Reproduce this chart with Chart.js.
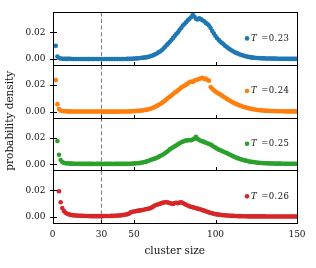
<!DOCTYPE html>
<html>
<head>
<meta charset="utf-8">
<script src="https://cdn.jsdelivr.net/npm/chart.js@4.4.0/dist/chart.umd.min.js"></script>
<style>
html,body{margin:0;padding:0;background:#fff;}
#c{display:block;}
</style>
</head>
<body>
<canvas id="c" width="316" height="268"></canvas>
<script>
// ---- data ----
const T_LABELS = ['0.23', '0.24', '0.25', '0.26'];
const START_SIZE = [2, 2, 3, 4];
const COLORS = ['#1f77b4', '#ff7f0e', '#2ca02c', '#d62728'];
const X_TICKS = [0, 30, 50, 100, 150];
const Y_TICKS = [0, 0.02];
const THRESHOLD = 30;

const p023 = [
0.0099,0.0020,0.0008,0.0005,
0.0003,0.0003,0.0002,0.0002,0.0002,0.0002,0.0001,0.0001,0.0001,0.0001,0.0001,0.0001,0.0001,0.0001,0.0001,
0.0001,0.0001,0.0001,0.0001,0.0001,0.0001,0.0001,0.0001,0.0001,0.0001,0.0001,0.0001,0.0001,0.0001,0.0001,0.0001,0.0001,0.0001,0.0001,0.0001,0.0001,0.0001,0.0001,0.0001,0.0001,
0.0002,0.0002,0.0003,0.0003,0.0004,
0.0005,0.0006,0.0007,0.0008,0.0010,0.0011,0.0013,0.0015,0.0018,0.0021,
0.0025,0.0030,0.0036,0.0042,0.0050,0.0057,0.0066,0.0077,0.0090,0.0104,
0.0117,0.0130,0.0142,0.0158,0.0172,0.0188,0.0200,0.0218,0.0232,0.0250,
0.0262,0.0275,0.0290,0.0300,0.0312,0.0330,0.0318,0.0300,0.0296,0.0305,
0.0298,0.0290,0.0282,0.0270,0.0262,0.0250,0.0232,0.0210,0.0190,0.0172,
0.0155,0.0142,0.0130,0.0120,0.0110,0.0098,0.0090,0.0080,0.0072,0.0064,
0.0057,0.0050,0.0045,0.0040,0.0035,0.0031,0.0027,0.0023,0.0020,0.0017,
0.0015,0.0013,0.0011,0.0010,0.0009,0.0008,0.0007,0.0007,0.0006,0.0006,
0.0005,0.0005,0.0005,0.0004,0.0004,0.0004,0.0004,0.0003,0.0003,0.0003,
0.0003,0.0003,0.0003,0.0003,0.0002,0.0002,0.0002,0.0002,0.0002,0.0002
];
const p024 = [
0.0237,0.0057,0.0020,0.0010,
0.0006,0.0005,0.0004,0.0003,0.0003,0.0003,0.0002,0.0002,0.0002,0.0002,0.0002,0.0002,0.0002,0.0002,0.0002,
0.0002,0.0002,0.0002,0.0002,0.0002,0.0002,0.0002,0.0002,0.0002,0.0002,0.0001,0.0001,0.0001,0.0001,0.0001,0.0001,0.0001,0.0001,0.0001,0.0001,0.0002,0.0002,0.0002,0.0002,0.0002,
0.0002,0.0003,0.0003,0.0004,0.0005,
0.0006,0.0007,0.0008,0.0009,0.0010,0.0012,0.0014,0.0016,0.0019,0.0022,
0.0026,0.0031,0.0037,0.0044,0.0051,0.0058,0.0066,0.0074,0.0083,0.0094,
0.0104,0.0112,0.0122,0.0132,0.0143,0.0150,0.0160,0.0170,0.0180,0.0188,
0.0195,0.0202,0.0210,0.0220,0.0225,0.0222,0.0232,0.0237,0.0240,0.0244,
0.0250,0.0254,0.0245,0.0248,0.0237,0.0232,0.0185,0.0172,0.0160,0.0150,
0.0143,0.0135,0.0128,0.0120,0.0112,0.0104,0.0096,0.0088,0.0082,0.0075,
0.0068,0.0062,0.0057,0.0052,0.0046,0.0042,0.0038,0.0034,0.0031,0.0028,
0.0025,0.0022,0.0019,0.0017,0.0015,0.0013,0.0012,0.0011,0.0010,0.0009,
0.0008,0.0007,0.0007,0.0006,0.0006,0.0005,0.0005,0.0005,0.0004,0.0004,
0.0004,0.0004,0.0003,0.0003,0.0003,0.0003,0.0003,0.0003,0.0003,0.0003
];
const p025 = [
0.0174,0.0072,0.0033,0.0018,0.0012,
0.0009,0.0008,0.0007,0.0006,0.0006,0.0005,0.0005,0.0005,0.0005,0.0004,0.0004,0.0004,0.0004,
0.0004,0.0004,0.0004,0.0004,0.0004,0.0003,0.0004,0.0004,0.0004,0.0004,0.0003,0.0004,0.0004,0.0004,0.0004,0.0004,0.0003,0.0004,0.0004,0.0004,0.0004,0.0004,0.0004,0.0004,0.0004,0.0004,0.0004,
0.0005,0.0006,0.0007,0.0008,0.0009,
0.0010,0.0012,0.0014,0.0016,0.0019,0.0023,0.0028,0.0033,0.0036,0.0040,
0.0045,0.0050,0.0056,0.0062,0.0068,0.0075,0.0083,0.0092,0.0102,0.0112,
0.0120,0.0128,0.0135,0.0142,0.0150,0.0158,0.0165,0.0170,0.0175,0.0180,
0.0178,0.0182,0.0180,0.0185,0.0192,0.0205,0.0190,0.0182,0.0176,0.0172,
0.0168,0.0162,0.0158,0.0152,0.0148,0.0140,0.0132,0.0125,0.0117,0.0110,
0.0106,0.0100,0.0095,0.0089,0.0084,0.0078,0.0072,0.0066,0.0060,0.0054,
0.0049,0.0045,0.0041,0.0037,0.0033,0.0030,0.0027,0.0024,0.0021,0.0019,
0.0018,0.0016,0.0014,0.0013,0.0012,0.0011,0.0010,0.0009,0.0009,0.0008,
0.0008,0.0007,0.0007,0.0007,0.0006,0.0006,0.0006,0.0006,0.0005,0.0005,
0.0005,0.0005,0.0005,0.0005,0.0005,0.0005,0.0005,0.0005,0.0005,0.0005
];
const p026 = [
0.0192,0.0110,0.0067,0.0046,0.0032,0.0025,0.0020,
0.0017,0.0015,0.0013,0.0012,0.0011,0.0010,0.0010,0.0009,0.0009,0.0008,
0.0008,0.0008,0.0007,0.0007,0.0007,0.0007,0.0007,0.0007,0.0007,0.0007,
0.0007,0.0008,0.0008,0.0008,0.0008,0.0009,0.0009,0.0010,0.0010,0.0011,
0.0012,0.0013,0.0015,0.0017,0.0019,
0.0022,0.0026,0.0035,0.0040,0.0042,
0.0044,0.0046,0.0048,0.0050,0.0052,0.0055,0.0058,0.0060,0.0063,0.0066,
0.0072,0.0080,0.0088,0.0092,0.0096,0.0100,0.0104,0.0108,0.0111,0.0110,
0.0108,0.0105,0.0100,0.0098,0.0104,0.0106,0.0103,0.0108,0.0110,0.0105,
0.0098,0.0092,0.0086,0.0080,0.0077,0.0074,0.0070,0.0067,0.0063,0.0060,
0.0056,0.0052,0.0048,0.0044,0.0040,0.0035,0.0031,0.0028,0.0025,0.0022,
0.0020,0.0018,0.0017,0.0015,0.0014,0.0013,0.0012,0.0011,0.0010,0.0009,
0.0009,0.0008,0.0008,0.0007,0.0007,0.0007,0.0006,0.0006,0.0006,0.0005,
0.0005,0.0005,0.0005,0.0005,0.0005,0.0005,0.0005,0.0005,0.0005,0.0005,
0.0004,0.0004,0.0004,0.0004,0.0004,0.0004,0.0004,0.0004,0.0004,0.0004,
0.0004,0.0004,0.0004,0.0004,0.0004,0.0004,0.0004,0.0004,0.0004,0.0004
];
const SERIES = [p023, p024, p025, p026];

// ---- chart ----
const SERIF = '"DejaVu Serif", serif';
const TEXT = '#111';

const datasets = SERIES.map((vals, i) => ({
  label: 'T =' + T_LABELS[i],
  data: vals.map((v, k) => ({x: START_SIZE[i] + k, y: v})),
  yAxisID: 'y' + i,
  backgroundColor: COLORS[i],
  borderColor: COLORS[i],
  borderWidth: 0,
  pointRadius: 2.3,
  pointHoverRadius: 2.3,
  showLine: false
}));

function yAxis(i) {
  return {
    type: 'linear',
    position: 'left',
    stack: 'panels',
    stackWeight: 1,
    min: -0.0044,
    max: 0.0348,
    grid: {display: false, drawTicks: false},
    border: {display: false},
    afterBuildTicks: ax => { ax.ticks = Y_TICKS.map(v => ({value: v})); },
    afterFit: ax => { ax.width = 52.5; },
    ticks: {
      padding: 7,
      color: TEXT,
      font: {family: SERIF, size: 9},
      callback: v => Number(v).toFixed(2)
    }
  };
}

const scales = {
  x: {
    type: 'linear',
    position: 'bottom',
    min: 0, max: 150,
    grid: {display: false, drawTicks: false},
    border: {display: false},
    afterBuildTicks: ax => { ax.ticks = X_TICKS.map(v => ({value: v})); },
    afterFit: ax => { ax.height = 45; },
    ticks: {padding: 6, color: TEXT, font: {family: SERIF, size: 9}, maxRotation: 0, autoSkip: false},
    title: {display: true, text: 'cluster size', color: TEXT, font: {family: SERIF, size: 10.5}, padding: {top: 4, bottom: 10}}
  }
};
// stacked panels: the axis declared last is placed on top
for (let i = 3; i >= 0; i--) scales['y' + i] = yAxis(i);

const framePlugin = {
  id: 'frame',
  beforeDatasetsDraw(chart) {
    const ctx = chart.ctx, ca = chart.chartArea, xs = chart.scales.x;
    const xp = xs.getPixelForValue(THRESHOLD);
    ctx.save();
    ctx.strokeStyle = '#7f7f7f';
    ctx.lineWidth = 1.1;
    ctx.setLineDash([4, 2.6]);
    ctx.beginPath();
    ctx.moveTo(Math.round(xp) + 0.5, ca.top);
    ctx.lineTo(Math.round(xp) + 0.5, ca.bottom);
    ctx.stroke();
    ctx.restore();
  },
  afterDraw(chart) {
    const ctx = chart.ctx, ca = chart.chartArea, xs = chart.scales.x;
    ctx.save();
    ctx.strokeStyle = '#000';
    ctx.lineWidth = 1;
    for (let i = 0; i < 4; i++) {
      const s = chart.scales['y' + i];
      const top = Math.round(s.top) + 0.5, bot = Math.round(s.bottom) + 0.5;
      const l = Math.round(ca.left) + 0.5, r = Math.round(ca.right) + 0.5;
      ctx.strokeRect(l, top, r - l, bot - top);
      ctx.beginPath();
      Y_TICKS.forEach(v => {
        const y = Math.round(s.getPixelForValue(v)) + 0.5;
        ctx.moveTo(l - 3.5, y); ctx.lineTo(l + 3.5, y);
      });
      X_TICKS.forEach(v => {
        if (v === 0 || v === 150) return;
        const x = Math.round(xs.getPixelForValue(v)) + 0.5;
        ctx.moveTo(x, bot); ctx.lineTo(x, bot - 3.5);
      });
      ctx.stroke();
      // legend
      const ly = s.top + 26;
      const lx = ca.left + 194.5;
      ctx.fillStyle = COLORS[i];
      ctx.beginPath();
      ctx.arc(lx, ly, 2.3, 0, Math.PI * 2);
      ctx.fill();
      ctx.fillStyle = TEXT;
      ctx.textBaseline = 'middle';
      ctx.textAlign = 'left';
      ctx.font = 'italic 8.5px ' + SERIF;
      ctx.fillText('T', lx + 4, ly);
      const tw = ctx.measureText('T').width;
      ctx.font = '8.5px ' + SERIF;
      ctx.letterSpacing = '0.4px';
      ctx.fillText(' =' + T_LABELS[i], lx + 4 + tw + 1.5, ly);
      ctx.letterSpacing = '0px';
    }
    // y title
    ctx.fillStyle = TEXT;
    ctx.font = '10.5px ' + SERIF;
    ctx.textAlign = 'center';
    ctx.textBaseline = 'middle';
    ctx.translate(10, (ca.top + ca.bottom) / 2 + 3);
    ctx.rotate(-Math.PI / 2);
    ctx.fillText('probability density', 0, 0);
    ctx.restore();
  }
};

new Chart(document.getElementById('c'), {
  type: 'scatter',
  data: {datasets},
  options: {
    responsive: false,
    devicePixelRatio: 1,
    animation: false,
    layout: {padding: {left: 0, top: 9, right: 19, bottom: 0}},
    plugins: {legend: {display: false}, tooltip: {enabled: false}},
    scales
  },
  plugins: [framePlugin]
});
</script>
</body>
</html>
